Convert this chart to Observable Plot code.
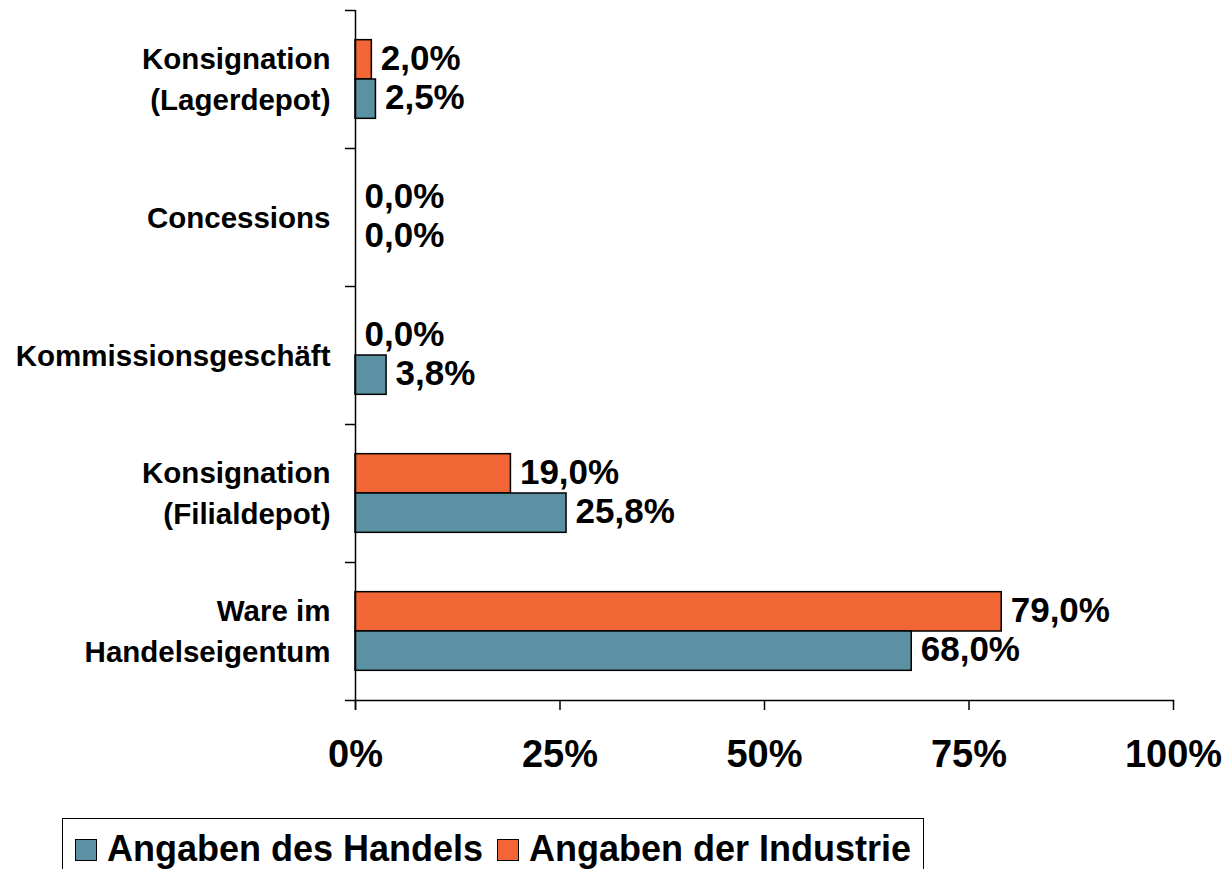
<!DOCTYPE html>
<html>
<head>
<meta charset="utf-8">
<script src="https://cdn.jsdelivr.net/npm/d3@7"></script>
<script src="https://cdn.jsdelivr.net/npm/@observablehq/plot@0.6"></script>
<style>
  body { margin: 0; background: #fff; font-family: "Liberation Sans", Arial, sans-serif; color: #000; }
  #chart svg { display: block; }
  .legend { position: absolute; left: 62px; top: 818px; width: 862px; height: 70px; border: 1.5px solid #000; box-sizing: border-box; font-weight: bold; font-size: 36px; white-space: nowrap; }
  .legend .item { position: absolute; top: 10px; display: flex; align-items: center; line-height: 40px; }
  .legend .sw { width: 22px; height: 22px; border: 1.5px solid #000; box-sizing: border-box; margin-right: 10px; margin-top: 2px; }
</style>
</head>
<body>
<div id="chart"></div>
<script>
const categories = ["Ware im Handelseigentum", "Konsignation (Filialdepot)", "Kommissionsgeschäft", "Concessions", "Konsignation (Lagerdepot)"];
const categoryLabels = ["Ware im\nHandelseigentum", "Konsignation\n(Filialdepot)", "Kommissionsgeschäft", "Concessions", "Konsignation\n(Lagerdepot)"];
const handelValues = [68.0, 25.8, 3.8, 0.0, 2.5];
const industrieValues = [79.0, 19.0, 0.0, 0.0, 2.0];
const seriesNames = ["Angaben des Handels", "Angaben der Industrie"];
const seriesColors = ["#5B91A3", "#F26535"];
const xTicks = [0, 25, 50, 75, 100];

const handel = categories.map((c, i) => ({cat: c, value: handelValues[i]}));
const industrie = categories.map((c, i) => ({cat: c, value: industrieValues[i]}));
const labelOf = new Map(categories.map((c, i) => [c, categoryLabels[i]]));
const fmt = v => v.toFixed(1).replace(".", ",") + "%";
const topDown = categories.slice().reverse();

const W = 1230, H = 800, mT = 10, mB = 100;
const band = (H - mT - mB) / categories.length;
const barH = band * 0.285;
const gapOut = band * 0.215;

const font = "Liberation Sans, Arial, sans-serif";

const plot = Plot.plot({
  width: W,
  height: H,
  marginLeft: 355,
  marginRight: 57,
  marginTop: mT,
  marginBottom: mB,
  style: {fontFamily: font, color: "#000", background: "#fff"},
  x: {domain: [0, 100]},
  y: {domain: topDown, padding: 0},
  marks: [
    Plot.barX(industrie, {x: "value", y: "cat", fill: seriesColors[1], stroke: "#000", strokeWidth: 1.5, insetTop: gapOut, insetBottom: band - gapOut - barH}),
    Plot.barX(handel, {x: "value", y: "cat", fill: seriesColors[0], stroke: "#000", strokeWidth: 1.5, insetTop: gapOut + barH, insetBottom: gapOut}),
    Plot.ruleX([0], {stroke: "#000", strokeWidth: 1.5, insetBottom: -10}),
    Plot.frame({anchor: "bottom", stroke: "#000", strokeWidth: 1.5}),
    Plot.axisY({anchor: "left", tickSize: 10, tickFormat: () => "", dy: -band / 2, stroke: "#000", strokeWidth: 1.5, label: null}),
    Plot.axisY({anchor: "left", ticks: [categories[0]], tickSize: 10, tickFormat: () => "", dy: band / 2, stroke: "#000", strokeWidth: 1.5, label: null}),
    Plot.axisX({anchor: "bottom", ticks: xTicks, tickFormat: d => d + "%", tickSize: 10, tickPadding: 30, fontSize: 38, fontWeight: "bold", stroke: "#000", strokeWidth: 1.5, label: null}),
    Plot.text(categories, {y: d => d, text: d => labelOf.get(d), frameAnchor: "left", dx: -25, dy: -3, textAnchor: "end", fontSize: 29.5, fontWeight: "bold", lineHeight: 1.4, fill: "#000"}),
    Plot.text(industrie, {x: "value", y: "cat", text: d => fmt(d.value), dx: 9, dy: -(band / 2 - gapOut - barH / 2) - 1, textAnchor: "start", fontSize: 35, fontWeight: "bold", fill: "#000"}),
    Plot.text(handel, {x: "value", y: "cat", text: d => fmt(d.value), dx: 9, dy: (band / 2 - gapOut - barH / 2) - 1, textAnchor: "start", fontSize: 35, fontWeight: "bold", fill: "#000"})
  ]
});
document.getElementById("chart").appendChild(plot);

const legend = document.createElement("div");
legend.className = "legend";
const lefts = [12, 434];
seriesNames.forEach((name, i) => {
  const item = document.createElement("div");
  item.className = "item";
  item.style.left = lefts[i] + "px";
  const sw = document.createElement("span");
  sw.className = "sw";
  sw.style.background = seriesColors[i];
  item.appendChild(sw);
  item.appendChild(document.createTextNode(name));
  legend.appendChild(item);
});
document.body.appendChild(legend);
</script>
</body>
</html>
